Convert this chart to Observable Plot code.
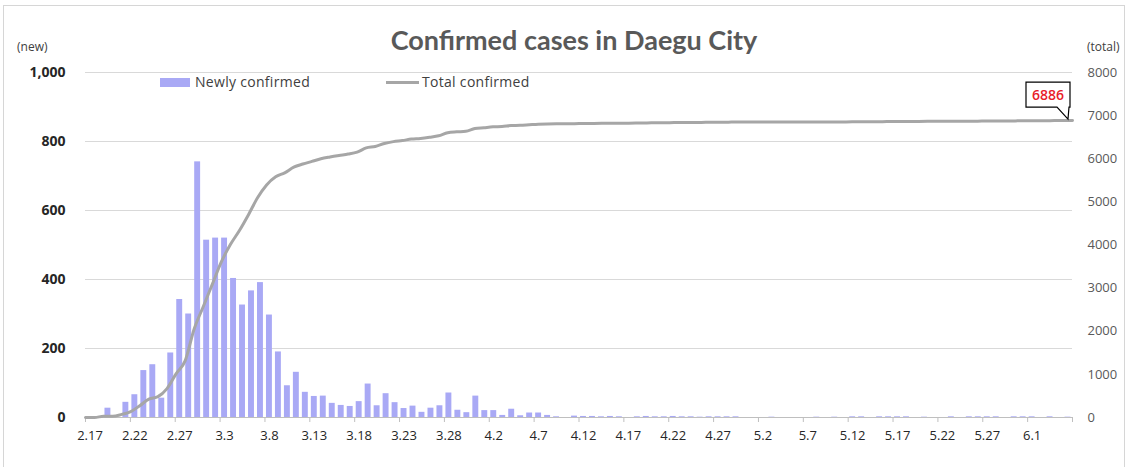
<!DOCTYPE html>
<html><head><meta charset="utf-8">
<script src="https://cdn.jsdelivr.net/npm/d3@7"></script>
<script src="https://cdn.jsdelivr.net/npm/@observablehq/plot@0.6"></script>
<style>
body{margin:0;background:#fff;font-family:"Open Sans",sans-serif;}
#wrap{position:relative;width:1130px;height:467px;overflow:hidden;}
#frame{position:absolute;left:3px;top:5px;width:1122px;height:470px;border:1px solid #d6d6d6;box-sizing:border-box;}
.t{position:absolute;white-space:nowrap;}
#title{left:0;width:1148px;text-align:center;top:25px;font-family:Lato,sans-serif;font-weight:bold;font-size:27px;line-height:30px;color:#595959;}
#unitL{left:17px;top:39px;font-size:12px;line-height:16px;color:#404040;}
#unitR{left:1087px;top:39px;font-size:12px;line-height:16px;color:#404040;}
.lg{font-size:14px;letter-spacing:0.3px;line-height:18px;color:#404040;top:73px;}
#sw1{position:absolute;left:160px;top:78px;width:30px;height:9px;background:#a9a9f5;}
#sw2{position:absolute;left:386px;top:81px;width:33px;height:3px;background:#a6a6a6;}
#chart{position:absolute;left:0;top:0;}
</style></head><body>
<div id="wrap">
<div id="frame"></div>
<div id="chart"></div>
<div class="t" id="title">Confirmed cases in Daegu City</div>
<div class="t" id="unitL">(new)</div>
<div class="t" id="unitR">(total)</div>
<div id="sw1"></div><div class="t lg" style="left:195px">Newly confirmed</div>
<div id="sw2"></div><div class="t lg" style="left:422px">Total confirmed</div>
</div>
<script>
// categories: daily, 2020-02-17 .. 2020-06-05
const startDay = new Date(Date.UTC(2020, 1, 17));
const categories = d3.utcDay.range(startDay, new Date(Date.UTC(2020, 5, 6)));
// tick labels (every 5th day)
const tickLabels = ["2.17","2.22","2.27","3.3","3.8","3.13","3.18","3.23","3.28","4.2","4.7",
  "4.12","4.17","4.22","4.27","5.2","5.7","5.12","5.17","5.22","5.27","6.1"];
// newly confirmed per day
const newCases = [
  0,1,27,0,44,66,136,153,56,187,
  342,300,741,514,520,520,403,326,367,391,
  297,190,92,131,73,61,62,41,35,32,
  46,97,34,69,43,26,33,15,27,34,
  71,21,14,62,20,20,6,24,5,13,
  13,6,2,0,4,3,3,2,3,2,
  0,2,3,2,2,3,2,2,1,2,
  2,2,2,0,0,0,1,0,0,0,
  0,1,0,1,0,2,2,0,2,2,
  2,2,0,1,0,0,2,0,2,2,
  2,2,0,2,2,2,0,2,0,1];
// total confirmed
const totalCases = [
  0,1,28,28,72,138,274,427,483,670,
  1012,1312,2053,2567,3087,3607,4010,4336,4703,5094,
  5391,5581,5673,5804,5877,5938,6000,6041,6076,6108,
  6154,6251,6285,6354,6397,6423,6456,6471,6498,6532,
  6603,6624,6638,6700,6720,6740,6746,6770,6775,6788,
  6801,6807,6809,6809,6813,6816,6819,6821,6824,6826,
  6826,6828,6831,6833,6835,6838,6840,6842,6843,6845,
  6847,6849,6851,6851,6851,6851,6852,6852,6852,6852,
  6852,6853,6853,6854,6854,6856,6858,6858,6860,6862,
  6864,6866,6866,6867,6867,6867,6869,6869,6871,6873,
  6875,6877,6877,6879,6881,6883,6883,6885,6885,6886];
const leftTicks = [0,200,400,600,800,1000];
const rightTicks = [0,1000,2000,3000,4000,5000,6000,7000,8000];

const n = categories.length;           // 110
const ratio = 8;                       // 1000 new <-> 8000 total
const rows = categories.map((d, i) => ({i, date: d, v: newCases[i], total: totalCases[i]}));
const labelIdx = tickLabels.map((_, k) => k * 5);
const boundaryTicks = d3.range(0, n + 1, 5).concat([n]);

const plot = Plot.plot({
  width: 1130, height: 467,
  marginLeft: 85, marginRight: 58, marginTop: 72, marginBottom: 50,
  style: {fontFamily: "Open Sans, sans-serif", color: "#404040", background: "transparent"},
  x: {domain: [0, n], axis: null},
  y: {domain: [0, 1000], axis: null},
  marks: [
    Plot.ruleY(leftTicks.filter(d => d > 0), {stroke: "#d9d9d9", strokeWidth: 1}),
    Plot.rectY(rows, {x1: d => d.i + 0.17, x2: d => d.i + 0.83, y: "v", fill: "#a9a9f5"}),
    Plot.ruleY([0], {stroke: "#bfbfbf"}),
    Plot.axisX(boundaryTicks, {tickSize: 5, tickFormat: () => "", stroke: "#bfbfbf"}),
    Plot.axisX(labelIdx.map(i => i + 0.5), {tickSize: 0, tickPadding: 13, fontSize: 13,
      tickFormat: (d, k) => tickLabels[k], fill: "#262626"}),
    Plot.axisY(leftTicks, {tickSize: 0, tickPadding: 20, fontSize: 14, fontWeight: "bold",
      tickFormat: d3.format(","), label: null, fill: "#262626"}),
    Plot.text(rightTicks, {x: n, y: d => d / ratio, text: d => String(d), dx: 15,
      textAnchor: "start", fontSize: 13, fill: "#595959"}),
    Plot.line(rows, {x: d => d.i * n / (n - 1), y: d => d.total / ratio, stroke: "#a6a6a6",
      strokeWidth: 3, curve: "monotone-x"})
  ]
});
document.getElementById("chart").appendChild(plot);

// callout for the last total, positioned through the plot's own scales
const last = rows[n - 1];
const px = plot.scale("x").apply(last.i * n / (n - 1));
const py = plot.scale("y").apply(last.total / ratio);
const svg = d3.select(plot);
const L = px - 46, R = px - 2, T = py - 38, B = py - 13;
svg.append("path")
  .attr("d", `M${L},${T}H${R}V${B}H${R - 1}L${px - 4},${py - 1}L${R - 13},${B}H${L}Z`)
  .attr("fill", "#fff").attr("stroke", "#000").attr("stroke-width", 1.2);
svg.append("text").attr("x", (L + R) / 2).attr("y", B - 7)
  .attr("text-anchor", "middle").attr("font-size", 14).attr("font-weight", 600).attr("fill", "#e8202a")
  .attr("font-family", "Open Sans, sans-serif").text(String(last.total));
</script>
</body></html>
